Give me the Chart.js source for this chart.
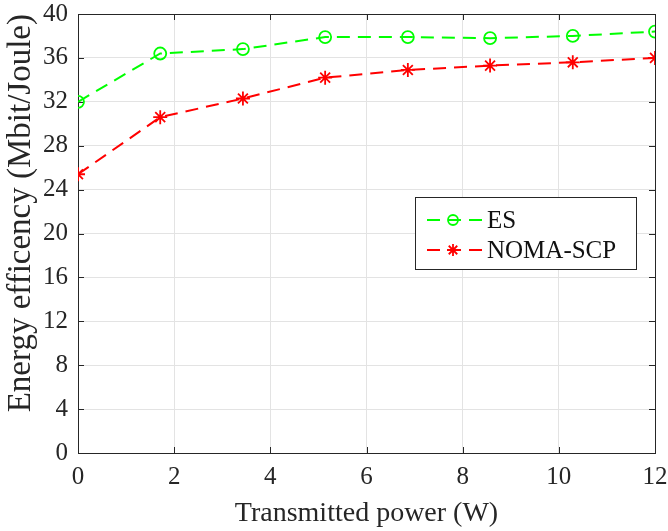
<!DOCTYPE html>
<html>
<head>
<meta charset="utf-8">
<script src="https://cdn.jsdelivr.net/npm/chart.js@4.4.0/dist/chart.umd.min.js"></script>
<style>
    html, body { margin: 0; padding: 0; background: #fff; }
    #wrap { width: 668px; height: 531px; }
</style>
</head>
<body>
<div id="wrap"><canvas id="efficiencyChart"></canvas></div>
<script>
// transmitted power (W) at each simulated point
const powerW = [0, 1.71, 3.43, 5.14, 6.86, 8.57, 10.29, 12];
// energy efficiency (Mbit/Joule)
const esValues = [32.0, 36.4, 36.8, 37.9, 37.9, 37.8, 38.0, 38.4];
const nomaValues = [25.4, 30.6, 32.3, 34.2, 34.9, 35.3, 35.6, 36.0];

const xTickValues = [0, 2, 4, 6, 8, 10, 12];
const yTickValues = [0, 4, 8, 12, 16, 20, 24, 28, 32, 36, 40];

const serif = '"Liberation Serif", "Times New Roman", serif';
const inkColor = '#262626';

const series = [
    { label: 'ES', values: esValues, color: '#00ff00', marker: 'circle' },
    { label: 'NOMA-SCP', values: nomaValues, color: '#ff0000', marker: 'star' }
];

function drawMarker(ctx, type, x, y, r, color) {
    ctx.save();
    ctx.strokeStyle = color;
    ctx.lineWidth = 1.8;
    ctx.setLineDash([]);
    ctx.beginPath();
    if (type === 'circle') {
        ctx.arc(x, y, r, 0, Math.PI * 2);
    } else {
        for (let i = 0; i < 4; i++) {
            const a = i * Math.PI / 4;
            ctx.moveTo(x - r * Math.cos(a), y - r * Math.sin(a));
            ctx.lineTo(x + r * Math.cos(a), y + r * Math.sin(a));
        }
    }
    ctx.stroke();
    ctx.restore();
}

// box around the plot with inward tick marks on all four sides
const axesBox = {
    id: 'axesBox',
    beforeDatasetsDraw(chart) {
        const { ctx, chartArea: a, scales } = chart;
        const tick = 6;
        ctx.save();
        ctx.strokeStyle = inkColor;
        ctx.lineWidth = 1;
        ctx.beginPath();
        xTickValues.forEach(v => {
            const px = Math.round(scales.x.getPixelForValue(v)) + 0.5;
            ctx.moveTo(px, a.bottom); ctx.lineTo(px, a.bottom - tick);
            ctx.moveTo(px, a.top); ctx.lineTo(px, a.top + tick);
        });
        yTickValues.forEach(v => {
            const py = Math.round(scales.y.getPixelForValue(v)) + 0.5;
            ctx.moveTo(a.left, py); ctx.lineTo(a.left + tick, py);
            ctx.moveTo(a.right, py); ctx.lineTo(a.right - tick, py);
        });
        ctx.stroke();
        ctx.strokeRect(Math.round(a.left) + 0.5, Math.round(a.top) + 0.5,
            Math.round(a.right - a.left), Math.round(a.bottom - a.top));
        ctx.restore();
    }
};

// legend box drawn inside the plot area
const boxLegend = {
    id: 'boxLegend',
    afterDraw(chart) {
        const { ctx, chartArea: a } = chart;
        const x0 = a.right - 240, y0 = a.top + 183;
        const w = 221, h = 72;
        ctx.save();
        ctx.fillStyle = '#fff';
        ctx.fillRect(x0, y0, w, h);
        ctx.strokeStyle = inkColor;
        ctx.lineWidth = 1;
        ctx.strokeRect(x0 + 0.5, y0 + 0.5, w, h);
        ctx.font = '25px ' + serif;
        ctx.textBaseline = 'middle';
        series.forEach((s, i) => {
            const y = y0 + 23 + i * 30;
            ctx.strokeStyle = s.color;
            ctx.lineWidth = 2;
            ctx.setLineDash([13, 8]);
            ctx.beginPath();
            ctx.moveTo(x0 + 12, y);
            ctx.lineTo(x0 + 68, y);
            ctx.stroke();
            drawMarker(ctx, s.marker, x0 + 38, y, s.marker === 'circle' ? 5 : 6, s.color);
            ctx.fillStyle = '#111';
            ctx.fillText(s.label, x0 + 72, y + 1);
        });
        ctx.restore();
    }
};

const datasets = series.map(s => ({
    label: s.label,
    data: powerW.map((p, i) => ({ x: p, y: s.values[i] })),
    borderColor: s.color,
    backgroundColor: 'transparent',
    borderWidth: 2,
    borderDash: [13, 8],
    pointStyle: s.marker,
    pointRadius: s.marker === 'circle' ? 6 : 7,
    pointBorderWidth: 1.8,
    pointBorderColor: s.color,
    pointBackgroundColor: 'transparent',
    tension: 0
}));

new Chart(document.getElementById('efficiencyChart'), {
    type: 'line',
    data: { datasets: datasets },
    options: {
        responsive: true,
        maintainAspectRatio: false,
        animation: false,
        layout: { padding: { top: 14, right: 13, left: 0, bottom: 0 } },
        plugins: {
            legend: { display: false },
            tooltip: { enabled: false }
        },
        scales: {
            x: {
                type: 'linear',
                min: 0,
                max: 12,
                afterBuildTicks: scale => { scale.ticks = xTickValues.map(v => ({ value: v })); },
                afterFit: scale => {
                    scale.height = 78;
                    scale.paddingLeft = 0;
                    scale.paddingRight = 0;
                },
                grid: { color: '#e3e3e3', drawTicks: false },
                border: { display: false },
                ticks: { color: inkColor, padding: 9, font: { family: serif, size: 25 } },
                title: {
                    display: true,
                    text: 'Transmitted power (W)',
                    color: inkColor,
                    font: { family: serif, size: 28 },
                    padding: { top: 0, bottom: 1 }
                }
            },
            y: {
                min: 0,
                max: 40,
                afterBuildTicks: scale => { scale.ticks = yTickValues.map(v => ({ value: v })); },
                afterFit: scale => {
                    scale.width = 78;
                    scale.paddingTop = 0;
                    scale.paddingBottom = 0;
                },
                grid: { color: '#e3e3e3', drawTicks: false },
                border: { display: false },
                ticks: { color: inkColor, padding: 10, font: { family: serif, size: 25 } },
                title: {
                    display: true,
                    text: 'Energy efficency (Mbit/Joule)',
                    align: 'end',
                    color: inkColor,
                    font: { family: serif, size: 33 },
                    padding: { top: 2, bottom: 0 }
                }
            }
        }
    },
    plugins: [axesBox, boxLegend]
});
</script>
</body>
</html>
